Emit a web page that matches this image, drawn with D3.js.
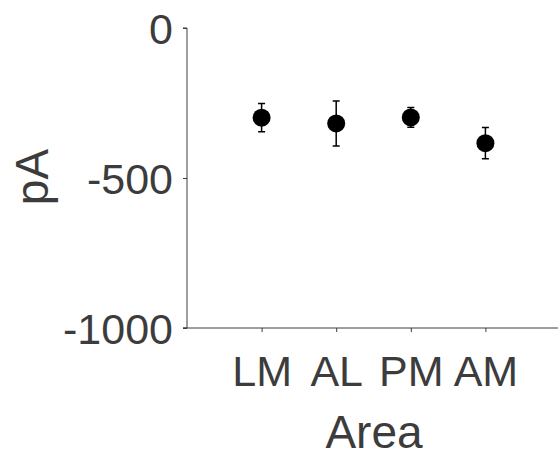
<!DOCTYPE html>
<html>
<head>
<meta charset="utf-8">
<script src="https://cdn.jsdelivr.net/npm/d3@7"></script>
<style>
  body { margin: 0; background: #fff; }
  text { font-family: "Liberation Sans", Arial, sans-serif; fill: #3c3c3c; }
</style>
</head>
<body>
<div id="chart"></div>
<script>
// data
var areas = ["LM", "AL", "PM", "AM"];
var means = [-299, -318, -298, -384];
var errs = [47, 75, 33, 52];
var yTicks = [0, -500, -1000];

var width = 558, height = 450;
var axisColor = "#3c3c3c";

var svg = d3.select("#chart")
  .append("svg")
    .attr("width", width)
    .attr("height", height);

var x = d3.scaleLinear()
  .domain([0, areas.length + 1])
  .range([187, 560]);

var y = d3.scaleLinear()
  .domain([-1000, 0])
  .range([328, 28]);

// y axis
var yAxis = svg.append("g")
  .attr("transform", "translate(187,0)")
  .call(d3.axisLeft(y).tickValues(yTicks).tickSize(4).tickPadding(10)
    .tickFormat(d3.format("d")));
yAxis.select(".domain").attr("stroke", axisColor).attr("d", "M-4,28H0V328H-4");
yAxis.selectAll("line").attr("stroke", axisColor);
yAxis.selectAll("text")
  .style("font-size", "43px")
  .attr("dy", "0.36em")
  .text(function(d) { return d < 0 ? "-" + Math.abs(d) : d; });

// x axis
var xAxis = svg.append("g")
  .attr("transform", "translate(0,328)")
  .call(d3.axisBottom(x).tickValues(d3.range(1, areas.length + 1)).tickSize(4).tickPadding(23)
    .tickFormat(function(d) { return areas[d - 1]; }));
xAxis.select(".domain").attr("stroke", axisColor).attr("d", "M183,0H560");
xAxis.selectAll("line").attr("stroke", axisColor);
xAxis.selectAll("text")
  .style("font-size", "43px")
  .attr("dy", "0.71em");

// labels
svg.append("text")
  .attr("transform", "translate(48,177) rotate(-90)")
  .attr("text-anchor", "middle")
  .style("font-size", "46px")
  .text("pA");

svg.append("text")
  .attr("x", 374)
  .attr("y", 448)
  .attr("text-anchor", "middle")
  .style("font-size", "46px")
  .text("Area");

// error bars
var g = svg.append("g");
var pts = areas.map(function(a, i) { return { i: i + 1, m: means[i], e: errs[i] }; });

g.selectAll(".err").data(pts).enter().append("path")
  .attr("class", "err")
  .attr("fill", "none")
  .attr("stroke", "#000")
  .attr("stroke-width", 1.5)
  .attr("d", function(d) {
    var cx = x(d.i), t = y(d.m + d.e), b = y(d.m - d.e);
    return "M" + cx + "," + t + "V" + b +
      "M" + (cx - 3.5) + "," + t + "H" + (cx + 3.5) +
      "M" + (cx - 3.5) + "," + b + "H" + (cx + 3.5);
  });

g.selectAll("circle").data(pts).enter().append("circle")
  .attr("cx", function(d) { return x(d.i); })
  .attr("cy", function(d) { return y(d.m); })
  .attr("r", 9)
  .attr("fill", "#000");
</script>
</body>
</html>
